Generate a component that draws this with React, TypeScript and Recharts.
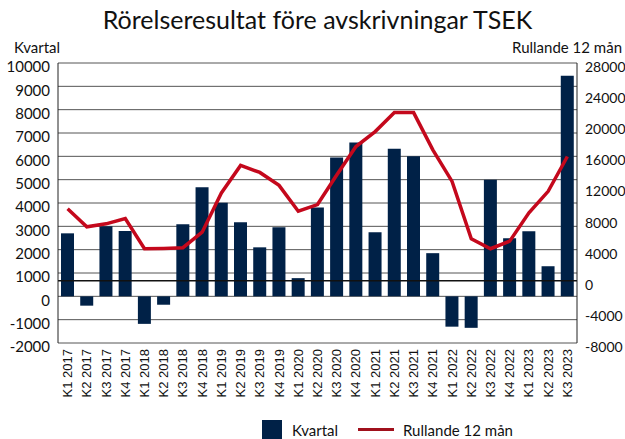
import React from 'react';
import {
  ComposedChart, Bar, Line, XAxis, YAxis, CartesianGrid, ReferenceLine, Legend,
} from 'recharts';

const QUARTERS = [
  'K1 2017', 'K2 2017', 'K3 2017', 'K4 2017',
  'K1 2018', 'K2 2018', 'K3 2018', 'K4 2018',
  'K1 2019', 'K2 2019', 'K3 2019', 'K4 2019',
  'K1 2020', 'K2 2020', 'K3 2020', 'K4 2020',
  'K1 2021', 'K2 2021', 'K3 2021', 'K4 2021',
  'K1 2022', 'K2 2022', 'K3 2022', 'K4 2022',
  'K1 2023', 'K2 2023', 'K3 2023',
];

const KVARTAL = [
  2700, -400, 3000, 2800,
  -1180, -360, 3090, 4670,
  4010, 3170, 2100, 2960,
  780, 3810, 5950, 6590,
  2750, 6330, 6000, 1850,
  -1300, -1350, 5000, 2490,
  2790, 1290, 9450,
];

const RULLANDE = [
  9250, 6940, 7320, 8000,
  4120, 4160, 4250, 6250,
  11290, 14830, 13930, 12270,
  8940, 9800, 13600, 17260,
  19180, 21620, 21620, 16840,
  12780, 5400, 4120, 5100,
  8730, 11500, 15980,
];

const LEFT_TICKS = [-2000, -1000, 0, 1000, 2000, 3000, 4000, 5000, 6000, 7000, 8000, 9000, 10000];
const RIGHT_TICKS = [-8000, -4000, 0, 4000, 8000, 12000, 16000, 20000, 24000, 28000];

const NAVY = '#002147';
const RED = '#c4081c';
const FONT = 'Lato, "Open Sans", sans-serif';

const data = QUARTERS.map((name, i) => ({ name, kvartal: KVARTAL[i], rullande: RULLANDE[i] }));

const XTick = ({ x, y, payload }: any) => (
  <text
    x={x} y={y} dy="0.35em" transform={`rotate(-90, ${x}, ${y})`}
    textAnchor="end" fontFamily='"Liberation Sans", Arial, sans-serif' fontSize={13} fill="#111"
  >
    {payload.value}
  </text>
);

const LegendContent = () => (
  <div style={{ display: 'flex', alignItems: 'center', fontFamily: FONT, fontSize: 15, color: '#111' }}>
    <span style={{ width: 20, height: 19, background: NAVY, display: 'inline-block', marginRight: 10 }} />
    <span style={{ marginRight: 20 }}>Kvartal</span>
    <span style={{ width: 36, height: 3, background: '#a0101c', display: 'inline-block', marginRight: 9 }} />
    <span>Rullande 12 mån</span>
  </div>
);

export default function App() {
  return (
    <div style={{ position: 'absolute', left: 0, top: 0, width: 625, height: 439, background: '#fff' }}>
      <div style={{
        position: 'absolute', left: 0, top: 4, width: 635, textAlign: 'center',
        fontFamily: FONT, fontSize: 25, color: '#111',
      }}>
        Rörelseresultat före avskrivningar TSEK
      </div>
      <div style={{ position: 'absolute', left: 14, top: 38, fontFamily: FONT, fontSize: 15, color: '#111' }}>
        Kvartal
      </div>
      <div style={{ position: 'absolute', right: 3, top: 38, fontFamily: FONT, fontSize: 15, color: '#111' }}>
        Rullande 12 mån
      </div>
      <ComposedChart
        width={625} height={439} data={data}
        margin={{ top: 63, right: 0, left: 0, bottom: 12 }}
      >
        <CartesianGrid yAxisId="left" vertical={false} stroke="#555" />
        <XAxis
          dataKey="name" interval={0} axisLine={false} tickLine={false}
          tick={<XTick />} height={65} tickMargin={0}
        />
        <YAxis
          yAxisId="left" domain={[-2000, 10000]} ticks={LEFT_TICKS} interval={0}
          width={58} axisLine={{ stroke: '#222' }} tickLine={false}
          tick={{ fill: '#111', fontSize: 15, fontFamily: FONT, dy: 4 }}
        />
        <YAxis
          yAxisId="right" orientation="right" domain={[-8000, 28000]} ticks={RIGHT_TICKS} interval={0}
          width={48} axisLine={{ stroke: '#222' }} tickLine={false}
          tick={{ fill: '#111', fontSize: 14, fontFamily: FONT, dy: 4, textAnchor: 'start' }}
        />
        <ReferenceLine yAxisId="right" y={0} stroke="#111" strokeWidth={1.5} />
        <Bar yAxisId="left" dataKey="kvartal" name="Kvartal" fill={NAVY} barSize={13} isAnimationActive={false} />
        <Line
          yAxisId="right" dataKey="rullande" name="Rullande 12 mån" type="linear"
          stroke={RED} strokeWidth={3.5} dot={false} isAnimationActive={false}
        />
        <Legend
          content={<LegendContent />}
          wrapperStyle={{ position: 'absolute', left: 262, top: 420, width: 'auto' }}
        />
      </ComposedChart>
    </div>
  );
}
